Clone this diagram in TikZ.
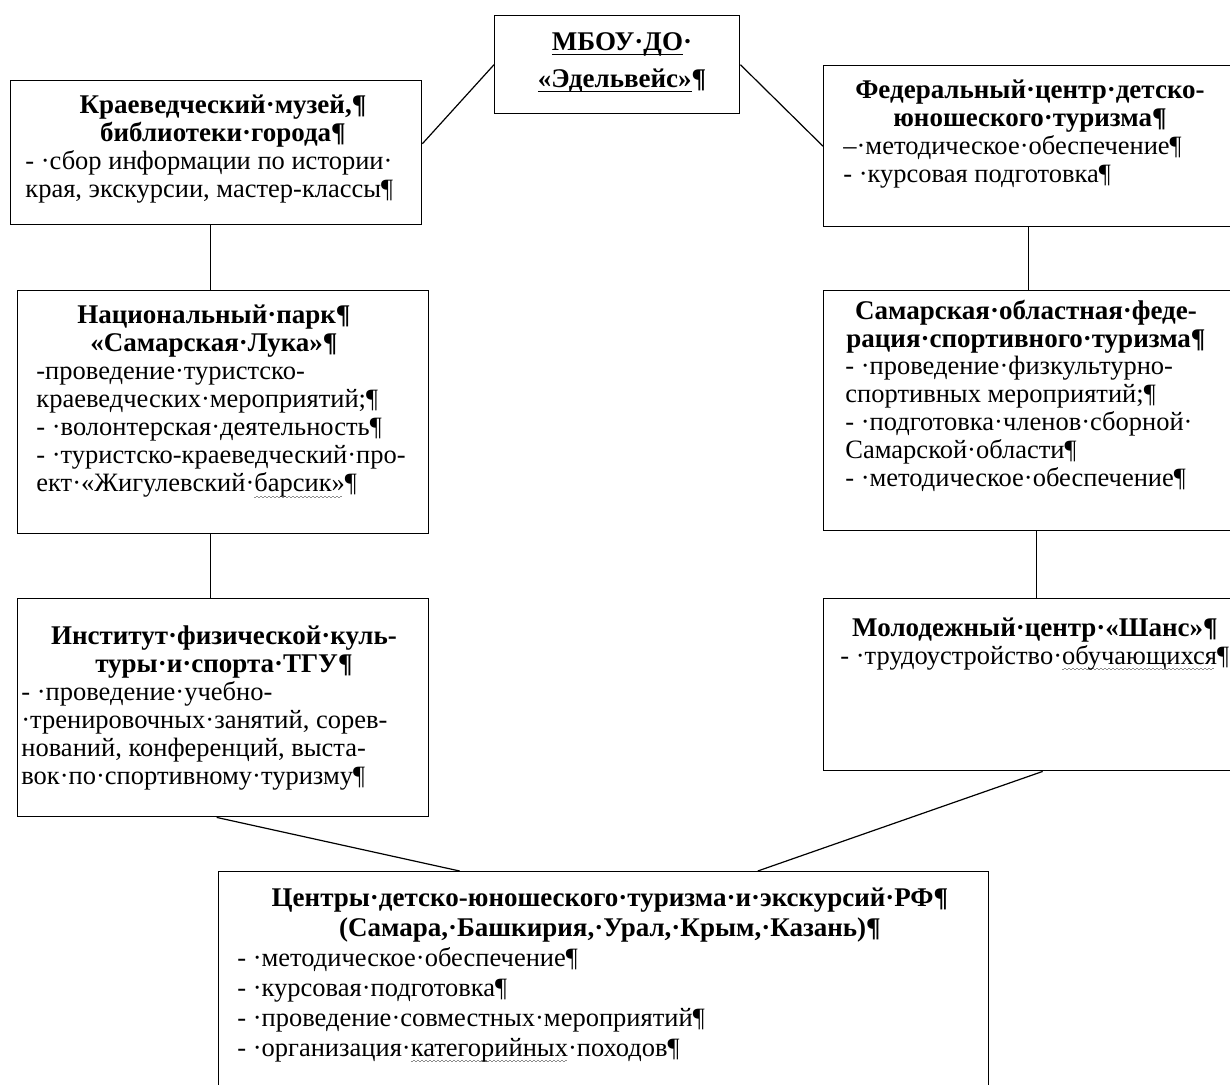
\documentclass[tikz,border=0pt]{standalone}
\usepackage{fontspec}
\setmainfont{Liberation Serif}
\usepackage{xcolor}
\usepackage{tikz}
\usetikzlibrary{calc}

\newsavebox{\wavebox}
\newcommand{\spellwave}[1]{\sbox{\wavebox}{#1}%
	\rlap{\raisebox{-3pt}{\color{black!45}\leaders\hbox to 2pt{\vrule width 1pt height 0.5pt depth 0pt\raisebox{0.7pt}{\vrule width 1pt height 0.5pt depth 0pt}}\hskip\wd\wavebox}}#1}
\newcommand{\thickline}[1]{\sbox{\wavebox}{#1}\rlap{\rule[-2.5pt]{\wd\wavebox}{0.8pt}}#1}
\newcommand{\headfont}{\fontsize{13.5}{14}\selectfont\bfseries}
\newcommand{\listfont}{\fontsize{13.25}{14}\selectfont}

\begin{document}
\begin{tikzpicture}[x=0.5pt, y=-0.5pt,
		box/.style={draw, line width=0.7pt, anchor=north west, inner sep=0pt},
		head/.style={anchor=north, align=center, inner sep=0pt, font=\headfont,
			execute at begin node=\strut, execute at end node=\strut},
		body/.style={anchor=north west, align=left, inner sep=0pt, font=\listfont,
			execute at begin node=\strut, execute at end node=\strut},
		link/.style={line width=0.6pt}]
		\useasboundingbox (0,0) rectangle (1230,1084);
		\clip (0,0) rectangle (1230,1084);

		% Boxes
		\node[box, minimum width=122.5pt, minimum height=49pt] (mbou) at (494,15) {};
		\node[box, minimum width=205.5pt, minimum height=72pt] (kraev) at (10,80) {};
		\node[box, minimum width=205pt, minimum height=80.5pt] (fed) at (823,65) {};
		\node[box, minimum width=205.5pt, minimum height=121.5pt] (natpark) at (17,290) {};
		\node[box, minimum width=205pt, minimum height=120pt] (samfed) at (823,290) {};
		\node[box, minimum width=205.5pt, minimum height=109pt] (inst) at (17,598) {};
		\node[box, minimum width=205pt, minimum height=86pt] (molod) at (823,598) {};
		\node[box, minimum width=385pt, minimum height=130pt] (centers) at (218,871) {};

		% Headings
		\node[head, font=\fontsize{13.5}{18.5}\selectfont\bfseries] (mbout) at (622,32)
			{\thickline{МБОУ·ДО}·\\\thickline{«Эдельвейс»}¶};
		\node[head] (kraevt) at (223,94) {Краеведческий·музей,¶\\библиотеки·города¶};
		\node[head] (fedt) at (1030,79) {Федеральный·центр·детско-\\юношеского·туризма¶};
		\node[head] (natparkt) at (214,304) {Национальный·парк¶\\«Самарская·Лука»¶};
		\node[head] (samfedt) at (1026,300) {Самарская·областная·феде-\\рация·спортивного·туризма¶};
		\node[head] (instt) at (224,625) {Институт·физической·куль-\\туры·и·спорта·ТГУ¶};
		\node[head] (molodt) at (1035,616) {Молодежный·центр·«Шанс»¶};
		\node[head, font=\fontsize{13.5}{15}\selectfont\bfseries] (centerst) at (610,887)
			{Центры·детско-юношеского·туризма·и·экскурсий·РФ¶\\(Самара,·Башкирия,·Урал,·Крым,·Казань)¶};

		% Lists
		\node[body] (kraevb) at (25,150)
			{- ·сбор информации по истории·\\края, экскурсии, мастер-классы¶};
		\node[body] (fedb) at (843,135)
			{–·методическое·обеспечение¶\\- ·курсовая подготовка¶};
		\node[body] (natparkb) at (36,367)
			{-проведение·туристско-\\краеведческих·мероприятий;¶\\- ·волонтерская·деятельность¶\\- ·туристско-краеведческий·про-\\ект·«Жигулевский·\spellwave{барсик»}¶};
		\node[body] (samfedb) at (845,356)
			{- ·проведение·физкультурно-\\спортивных мероприятий;¶\\- ·подготовка·членов·сборной·\\Самарской·области¶\\- ·методическое·обеспечение¶};
		\node[body] (instb) at (21,681)
			{- ·проведение·учебно-\\·тренировочных·занятий, сорев-\\нований, конференций, выста-\\вок·по·спортивному·туризму¶};
		\node[body] (molodb) at (840,644)
			{- ·трудоустройство·\spellwave{обучающихся}¶};
		\node[body, font=\fontsize{13.25}{15}\selectfont] (centersb) at (237,947)
			{- ·методическое·обеспечение¶\\- ·курсовая·подготовка¶\\- ·проведение·совместных·мероприятий¶\\- ·организация·\spellwave{категорийных}·походов¶};

		% Links
		\draw[link] (mbou.west) -- ([yshift=4.5pt]kraev.east);
		\draw[link] (mbou.east) -- (fed.west);
		\draw[link] ([xshift=-2.75pt]kraev.south) coordinate (kraevdrop) -- (kraevdrop |- natpark.north);
		\draw[link] ([xshift=-6.25pt]natpark.south) coordinate (natparkdrop) -- (natparkdrop |- inst.north);
		\draw[link] (fed.south) -- (samfed.north);
		\draw[link] ([xshift=4pt]samfed.south) coordinate (samfeddrop) -- (samfeddrop |- molod.north);
		\draw[link] ([xshift=-3.25pt]inst.south) -- ([xshift=-72pt]centers.north);
		\draw[link] ([xshift=7pt]molod.south) -- ([xshift=77pt]centers.north);
\end{tikzpicture}
\end{document}
